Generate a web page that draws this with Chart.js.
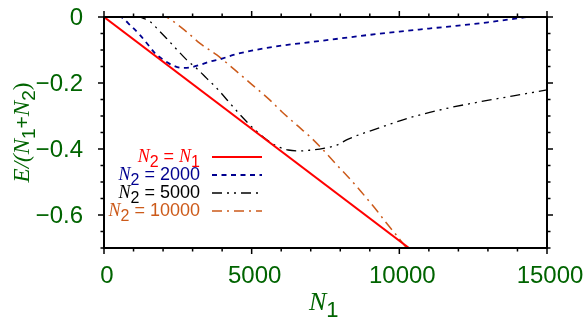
<!DOCTYPE html>
<html>
<head>
<meta charset="utf-8">
<script src="https://cdn.jsdelivr.net/npm/chart.js@4.4.0/dist/chart.umd.min.js"></script>
<style>
    html, body { margin: 0; padding: 0; background: #fff; }
    #wrap { width: 588px; height: 321px; }
</style>
</head>
<body>
<div id="wrap"><canvas id="energyChart" width="588" height="321"></canvas></div>
<script>
/* Data */
// N2 = N1
const n1Equal = [0, 11000]
const eEqual = [0, -0.7458]

// N2 = 2000
const n1Blue = [500, 600, 880, 1220, 1500, 1730, 2010, 2290, 2630, 2970, 3250, 3590, 3930, 4380, 5000, 5500, 6000, 7000, 8000, 9000, 10000, 11000, 12000, 13000, 14000, 14500]
const eBlue = [0.004, -0.001, -0.024, -0.055, -0.085, -0.110, -0.130, -0.145, -0.154, -0.152, -0.145, -0.135, -0.128, -0.115, -0.102, -0.094, -0.087, -0.076, -0.065, -0.054, -0.044, -0.035, -0.026, -0.016, -0.004, 0.002]

// N2 = 5000
const n1Black = [1100, 1220, 1560, 1840, 2120, 2460, 2800, 3140, 3480, 3820, 4320, 4720, 5110, 5500, 5850, 6240, 6640, 7030, 7430, 7880, 8270, 9350, 10480, 11600, 12730, 13860, 15000]
const eBlack = [0.003, 0, -0.014, -0.039, -0.065, -0.098, -0.130, -0.156, -0.186, -0.216, -0.267, -0.307, -0.342, -0.371, -0.391, -0.403, -0.406, -0.403, -0.398, -0.388, -0.370, -0.335, -0.302, -0.277, -0.257, -0.239, -0.221]

// N2 = 10000
const n1Orange = [1900, 2120, 2800, 3250, 3820, 4440, 5000, 5620, 6020, 6520, 6980, 7370, 7880, 8220, 8600, 8900, 9250, 9570, 9910, 10250, 10600]
const eOrange = [0.008, 0, -0.045, -0.080, -0.115, -0.161, -0.204, -0.252, -0.287, -0.327, -0.363, -0.398, -0.448, -0.480, -0.518, -0.550, -0.588, -0.625, -0.662, -0.699, -0.724]

const seriesN2 = ['N1', '2000', '5000', '10000']

const xTicks = [0, 5000, 10000, 15000]
const xTickLabels = ['0', '5000', '10000', '15000']
const yTicks = [0, -0.2, -0.4, -0.6]
const yTickLabels = ['0', '\u22120.2', '\u22120.4', '\u22120.6']

const green = '#006400'
const sans = '"Liberation Sans", Arial, sans-serif'
const serif = '"Liberation Serif", "Times New Roman", serif'

const toPoints = (xs, ys) => xs.map((v, i) => ({ x: v, y: ys[i] }))

/* draw a run of text pieces with different fonts / offsets */
const drawRich = (ctx, parts, x, y, align) => {
    let w = 0
    parts.forEach(p => { ctx.font = p.font; w += ctx.measureText(p.text).width })
    let cx = align === 'right' ? x - w : align === 'center' ? x - w / 2 : x
    ctx.textAlign = 'left'
    parts.forEach(p => {
        ctx.font = p.font
        ctx.fillText(p.text, cx, y + (p.dy || 0))
        cx += ctx.measureText(p.text).width
    })
}

/* scales should not push the plot area around */
const noPadding = s => {
    s.paddingTop = 0
    s.paddingBottom = 0
    s.paddingLeft = 0
    s.paddingRight = 0
}

/* Box, ticks, axis titles and legend */
const framePlugin = {
    id: 'frame',
    afterDatasetsDraw(chart) {
        const { ctx, chartArea: a, scales: { x, y } } = chart
        ctx.save()

        // ticks, outward, on all four sides
        ctx.strokeStyle = '#000'
        ctx.lineWidth = 1.5
        ctx.beginPath()
        for (let k = 0; k <= 15; k++) {
            const px = x.getPixelForValue(k * 1000)
            const len = k % 5 === 0 ? 6 : 3.5
            ctx.moveTo(px, a.bottom); ctx.lineTo(px, a.bottom + len)
            ctx.moveTo(px, a.top); ctx.lineTo(px, a.top - len)
        }
        for (let k = 0; k <= 14; k++) {
            const py = y.getPixelForValue(-k * 0.05)
            const len = k % 4 === 0 ? 6 : 3.5
            ctx.moveTo(a.left, py); ctx.lineTo(a.left - len, py)
            ctx.moveTo(a.right, py); ctx.lineTo(a.right + len, py)
        }
        ctx.stroke()

        ctx.lineWidth = 2
        ctx.strokeRect(a.left, a.top, a.right - a.left, a.bottom - a.top)

        // axis titles
        ctx.fillStyle = green
        ctx.textBaseline = 'alphabetic'
        drawRich(ctx, [
            { text: 'N', font: 'italic 26px ' + serif },
            { text: '1', font: '22px ' + sans, dy: 7 }
        ], 309, 310, 'left')

        ctx.save()
        ctx.translate(29, (a.top + a.bottom) / 2)
        ctx.rotate(-Math.PI / 2)
        drawRich(ctx, [
            { text: 'E/(', font: 'italic 23px ' + serif },
            { text: 'N', font: 'italic 23px ' + serif },
            { text: '1', font: '19px ' + sans, dy: 6 },
            { text: '+', font: '21px ' + sans },
            { text: 'N', font: 'italic 23px ' + serif },
            { text: '2', font: '19px ' + sans, dy: 6 },
            { text: ')', font: '23px ' + serif }
        ], 0, 0, 'center')
        ctx.restore()

        // legend
        chart.data.datasets.forEach((ds, i) => {
            const base = 162 + i * 18
            ctx.fillStyle = ds.borderColor
            const parts = [
                { text: 'N', font: 'italic 18px ' + serif },
                { text: '2', font: '16px ' + sans, dy: 5 },
                { text: ' = ', font: '18px ' + sans }
            ]
            if (seriesN2[i] === 'N1') {
                parts.push({ text: 'N', font: 'italic 18px ' + serif })
                parts.push({ text: '1', font: '16px ' + sans, dy: 5 })
            } else {
                parts.push({ text: seriesN2[i], font: '18px ' + sans })
            }
            drawRich(ctx, parts, 200, base, 'right')

            ctx.strokeStyle = ds.borderColor
            ctx.lineWidth = ds.borderWidth
            ctx.setLineDash(ds.borderDash || [])
            ctx.beginPath()
            ctx.moveTo(212, base - 5)
            ctx.lineTo(262, base - 5)
            ctx.stroke()
            ctx.setLineDash([])
        })

        ctx.restore()
    }
}

const lineSet = (xs, ys, color, width, dash) => ({
    data: toPoints(xs, ys),
    borderColor: color,
    borderWidth: width,
    borderDash: dash,
    pointRadius: 0,
    fill: false,
    cubicInterpolationMode: 'monotone'
})

new Chart(document.getElementById('energyChart'), {
    type: 'line',
    data: {
        datasets: [
            lineSet(n1Equal, eEqual, '#ff0000', 2, []),
            lineSet(n1Blue, eBlue, '#000090', 1.8, [5, 4.5]),
            lineSet(n1Black, eBlack, '#000000', 1.3, [10, 5, 2, 5, 2, 5]),
            lineSet(n1Orange, eOrange, '#cc5a1a', 1.5, [10, 5, 2, 5])
        ]
    },
    options: {
        responsive: false,
        animation: false,
        devicePixelRatio: 1,
        layout: { padding: { top: 17, right: 41, left: 0, bottom: 0 } },
        plugins: {
            legend: { display: false },
            tooltip: { enabled: false }
        },
        scales: {
            x: {
                type: 'linear',
                min: 0,
                max: 15000,
                grid: { display: false, drawTicks: false },
                border: { display: false },
                afterBuildTicks: s => { s.ticks = xTicks.map(v => ({ value: v })) },
                afterFit: s => { s.height = 73; noPadding(s) },
                ticks: {
                    autoSkip: false,
                    maxRotation: 0,
                    padding: 14,
                    labelOffset: 3,
                    color: green,
                    font: { family: sans, size: 24 },
                    callback: v => xTickLabels[xTicks.indexOf(v)]
                }
            },
            y: {
                type: 'linear',
                min: -0.7,
                max: 0,
                grid: { display: false, drawTicks: false },
                border: { display: false },
                afterBuildTicks: s => { s.ticks = yTicks.map(v => ({ value: v })) },
                afterFit: s => { s.width = 104; noPadding(s) },
                ticks: {
                    autoSkip: false,
                    padding: 21,
                    labelOffset: 1,
                    color: green,
                    font: { family: sans, size: 24 },
                    callback: v => yTickLabels[yTicks.indexOf(v)]
                }
            }
        }
    },
    plugins: [framePlugin]
})
</script>
</body>
</html>
